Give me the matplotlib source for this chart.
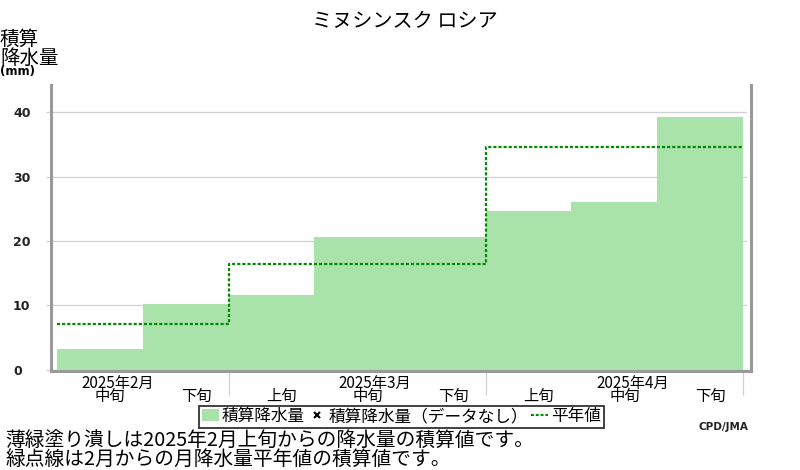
import matplotlib
matplotlib.use("Agg")
import matplotlib.pyplot as plt
from matplotlib.patches import Patch
from matplotlib.lines import Line2D

plt.rcParams['font.family'] = ['Noto Sans CJK JP', 'DejaVu Sans']

# ------------------------------------------------------------
# data
# ------------------------------------------------------------
dekad_labels = ['中旬', '下旬', '上旬', '中旬', '下旬', '上旬', '中旬', '下旬']
precip_cum = [3.2, 10.2, 11.6, 20.6, 20.6, 24.7, 26.0, 39.2]
month_labels = ['2025年2月', '2025年3月', '2025年4月']
month_first_dekad = [-1, 2, 5]          # index of 上旬 of each month
normal_edges = [0, 2, 5, 8]
normal_cum = [7.1, 16.4, 34.6, 34.6]
y_ticks = [0, 10, 20, 30, 40]

bar_color = '#aae3aa'
normal_color = '#008a00'
spine_color = '#999999'
grid_color = '#d0d0d0'

fig = plt.figure(figsize=(8, 4.7), dpi=100)
ax = fig.add_axes([50.5 / 800, 1 - 371 / 470, 700.2 / 800, 286 / 470])

# gridlines (under the bars)
for y in y_ticks:
    ax.axhline(y, xmin=0, xmax=0.993, color=grid_color, lw=0.9, zorder=0)

# cumulative precipitation
x = list(range(len(precip_cum)))
ax.bar(x, precip_cum, width=1.0, align='edge', color=bar_color,
       edgecolor='none', zorder=2)

# normal (step)
ax.step(normal_edges, normal_cum, where='post', color=normal_color,
        lw=1.6, linestyle=(0, (1.4, 0.9)), zorder=3)

ax.set_xlim(-0.076, 8.09)
ax.set_ylim(-0.23, 44.25)

# spines
ax.spines['top'].set_visible(False)
for s in ['left', 'right', 'bottom']:
    ax.spines[s].set_color(spine_color)
    ax.spines[s].set_linewidth(2.2)

# y ticks
ax.set_yticks(y_ticks)
ax.set_yticklabels([str(v) for v in y_ticks])
ax.tick_params(axis='y', length=3.6, width=0.9, color=grid_color,
               pad=23.4, labelsize=9, labelcolor='#222222')
plt.setp(ax.get_yticklabels(), ha='left', fontweight='bold',
         family='DejaVu Sans')

# x axis: month separators as ticks, labels as text
ax.set_xticks([2, 5, 8])
ax.set_xticklabels([])
ax.tick_params(axis='x', length=17, width=0.9, color=grid_color)

xt = ax.get_xaxis_transform()
for i, lab in enumerate(dekad_labels):
    ax.text(i + 0.62, -0.09, lab, transform=xt, ha='center', va='center',
            fontsize=11)
for start, lab in zip(month_first_dekad, month_labels):
    ax.text(start + 1.71, -0.042, lab, transform=xt, ha='center',
            va='center', fontsize=11)

# title and axis label
fig.text(405 / 800, 1 - 22 / 470, 'ミヌシンスク ロシア', ha='center',
         va='center', fontsize=14.5)
fig.text(0, 1 - 39 / 470, '積算', ha='left', va='center', fontsize=14)
fig.text(0, 1 - 58 / 470, '降水量', ha='left', va='center', fontsize=14)
fig.text(0, 1 - 72 / 470, '(mm)', ha='left', va='center', fontsize=8.5,
         fontweight='bold', family='DejaVu Sans')

# legend
handles = [
    Patch(facecolor=bar_color, edgecolor='none'),
    Line2D([], [], ls='none', marker='x', color='black', markersize=4,
           mew=1.5),
    Line2D([], [], color=normal_color, lw=1.5, linestyle=(0, (1.4, 0.9))),
]
labels = ['積算降水量', '積算降水量（データなし）', '平年値']
leg = fig.legend(handles, labels, loc='center', ncol=3,
                 bbox_to_anchor=(401.5 / 800, 1 - 416.5 / 470),
                 bbox_transform=fig.transFigure, fontsize=12,
                 handlelength=1.0, handletextpad=0.2, columnspacing=0.2,
                 borderpad=0.15, borderaxespad=0, fancybox=False,
                 frameon=True)
leg.get_frame().set_edgecolor('black')
leg.get_frame().set_linewidth(1.3)

fig.text(748 / 800, 1 - 427 / 470, 'CPD/JMA', ha='right', va='center',
         fontsize=7.5, fontweight='bold', family='DejaVu Sans',
         color='#222222')

# notes
fig.text(5 / 800, 1 - 441 / 470,
         '薄緑塗り潰しは2025年2月上旬からの降水量の積算値です。',
         ha='left', va='center', fontsize=14.2)
fig.text(5 / 800, 1 - 459 / 470,
         '緑点線は2月からの月降水量平年値の積算値です。',
         ha='left', va='center', fontsize=14.2)

fig.savefig('out.png', dpi=100)
